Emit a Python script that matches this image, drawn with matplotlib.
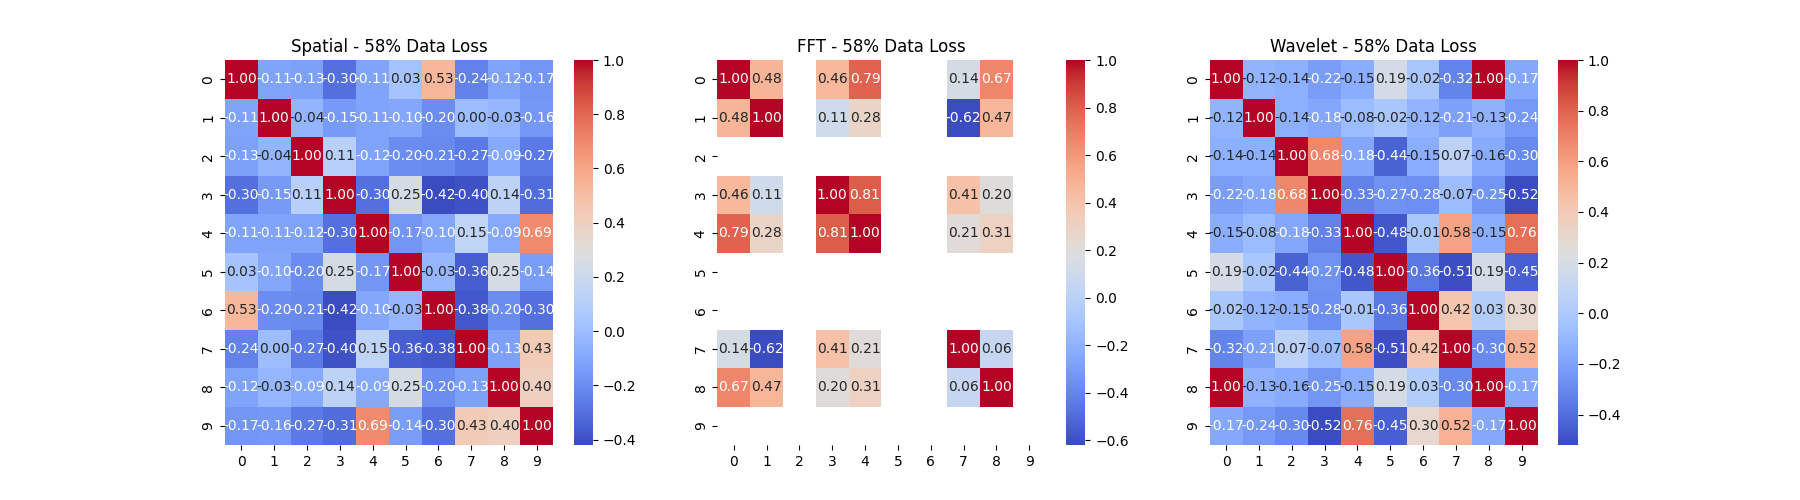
import numpy as np
import matplotlib
matplotlib.use("Agg")
import matplotlib.pyplot as plt
import seaborn as sns

nan = np.nan

# correlation matrices
spatial_corr = [
    [1.00, -0.11, -0.13, -0.30, -0.11, 0.03, 0.53, -0.24, -0.12, -0.17],
    [-0.11, 1.00, -0.04, -0.15, -0.11, -0.10, -0.20, 0.00, -0.03, -0.16],
    [-0.13, -0.04, 1.00, 0.11, -0.12, -0.20, -0.21, -0.27, -0.09, -0.27],
    [-0.30, -0.15, 0.11, 1.00, -0.30, 0.25, -0.42, -0.40, 0.14, -0.31],
    [-0.11, -0.11, -0.12, -0.30, 1.00, -0.17, -0.10, 0.15, -0.09, 0.69],
    [0.03, -0.10, -0.20, 0.25, -0.17, 1.00, -0.03, -0.36, 0.25, -0.14],
    [0.53, -0.20, -0.21, -0.42, -0.10, -0.03, 1.00, -0.38, -0.20, -0.30],
    [-0.24, 0.00, -0.27, -0.40, 0.15, -0.36, -0.38, 1.00, -0.13, 0.43],
    [-0.12, -0.03, -0.09, 0.14, -0.09, 0.25, -0.20, -0.13, 1.00, 0.40],
    [-0.17, -0.16, -0.27, -0.31, 0.69, -0.14, -0.30, 0.43, 0.40, 1.00],
]

fft_corr = [
    [1.00, 0.48, nan, 0.46, 0.79, nan, nan, 0.14, 0.67, nan],
    [0.48, 1.00, nan, 0.11, 0.28, nan, nan, -0.62, 0.47, nan],
    [nan] * 10,
    [0.46, 0.11, nan, 1.00, 0.81, nan, nan, 0.41, 0.20, nan],
    [0.79, 0.28, nan, 0.81, 1.00, nan, nan, 0.21, 0.31, nan],
    [nan] * 10,
    [nan] * 10,
    [0.14, -0.62, nan, 0.41, 0.21, nan, nan, 1.00, 0.06, nan],
    [0.67, 0.47, nan, 0.20, 0.31, nan, nan, 0.06, 1.00, nan],
    [nan] * 10,
]

wavelet_corr = [
    [1.00, -0.12, -0.14, -0.22, -0.15, 0.19, -0.02, -0.32, 1.00, -0.17],
    [-0.12, 1.00, -0.14, -0.18, -0.08, -0.02, -0.12, -0.21, -0.13, -0.24],
    [-0.14, -0.14, 1.00, 0.68, -0.18, -0.44, -0.15, 0.07, -0.16, -0.30],
    [-0.22, -0.18, 0.68, 1.00, -0.33, -0.27, -0.28, -0.07, -0.25, -0.52],
    [-0.15, -0.08, -0.18, -0.33, 1.00, -0.48, -0.01, 0.58, -0.15, 0.76],
    [0.19, -0.02, -0.44, -0.27, -0.48, 1.00, -0.36, -0.51, 0.19, -0.45],
    [-0.02, -0.12, -0.15, -0.28, -0.01, -0.36, 1.00, 0.42, 0.03, 0.30],
    [-0.32, -0.21, 0.07, -0.07, 0.58, -0.51, 0.42, 1.00, -0.30, 0.52],
    [1.00, -0.13, -0.16, -0.25, -0.15, 0.19, 0.03, -0.30, 1.00, -0.17],
    [-0.17, -0.24, -0.30, -0.52, 0.76, -0.45, 0.30, 0.52, -0.17, 1.00],
]

titles = ["Spatial - 58% Data Loss", "FFT - 58% Data Loss", "Wavelet - 58% Data Loss"]

fig, axes = plt.subplots(1, 3, figsize=(18, 5), dpi=100)
for ax, mat, title in zip(axes, [spatial_corr, fft_corr, wavelet_corr], titles):
    sns.heatmap(np.array(mat, dtype=float), ax=ax, annot=True, fmt=".2f", cmap="coolwarm")
    ax.set_title(title)

fig.savefig("out.png")
